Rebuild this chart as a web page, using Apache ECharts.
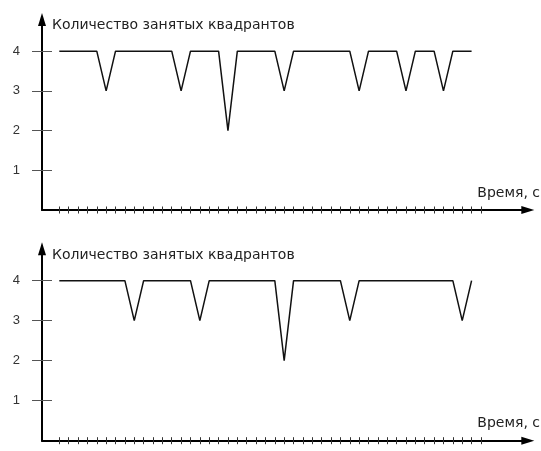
<!DOCTYPE html>
<html>
<head>
<meta charset="utf-8">
<script src="https://cdn.jsdelivr.net/npm/echarts@6/dist/echarts.min.js"></script>
<style>
html,body{margin:0;padding:0;background:#fff;}
#c{width:541px;height:451px;}
</style>
</head>
<body>
<div id="c"></div>
<script>
// Top chart
var topX = [0,4,5,6,12,13,14,17,18,19,23,24,25,31,32,33,36,37,38,40,41,42,44];
var topY = [4,4,3,4,4,3,4,4,2,4,4,3,4,4,3,4,4,3,4,4,3,4,4];
// Bottom chart
var botX = [0,7,8,9,14,15,16,23,24,25,30,31,32,42,43,44];
var botY = [4,4,3,4,4,3,4,4,2,4,4,3,4,4,3,4];
// Tick values
var xTicks = [];
for (var i = 0; i <= 45; i++) xTicks.push(i);
var yTicks = [1,2,3,4];
var yTitle = 'Количество занятых квадрантов';
var xTitle = 'Время, с';

function pairs(xs, ys){ return xs.map(function(x,i){ return [x, ys[i]]; }); }

var FONT = '"Liberation Sans", Arial, sans-serif';
var TFONT = '"DejaVu Sans", sans-serif';
var X_MIN = -1.846, X_MAX = 50;

function xAxes(gi){
  return [
    {gridIndex:gi, type:'value', min:X_MIN, max:X_MAX,
     axisLine:{show:true, onZero:false, lineStyle:{color:'#000', width:2}, symbol:['none','triangle'], symbolSize:[8,13]},
     axisTick:{show:true, customValues:xTicks, length:3.5, inside:false, lineStyle:{color:'#333', width:1}},
     axisLabel:{show:false}, splitLine:{show:false}},
    {gridIndex:gi, type:'value', min:X_MIN, max:X_MAX, position:'bottom',
     axisLine:{show:false, onZero:false},
     axisTick:{show:true, customValues:xTicks, length:3.5, inside:true, lineStyle:{color:'#333', width:1}},
     axisLabel:{show:false}, splitLine:{show:false}}
  ];
}
function yAxes(gi){
  return [
    {gridIndex:gi, type:'value', min:0, max:4.8,
     axisLine:{show:true, onZero:false, lineStyle:{color:'#000', width:2}, symbol:['none','triangle'], symbolSize:[8,13]},
     axisTick:{show:true, customValues:yTicks, length:10, inside:false, lineStyle:{color:'#555', width:1}},
     axisLabel:{show:true, customValues:yTicks, margin:22, color:'#333', fontSize:13, fontFamily:FONT},
     splitLine:{show:false}},
    {gridIndex:gi, type:'value', min:0, max:4.8, position:'left',
     axisLine:{show:false, onZero:false},
     axisTick:{show:true, customValues:yTicks, length:10, inside:true, lineStyle:{color:'#555', width:1}},
     axisLabel:{show:false}, splitLine:{show:false}}
  ];
}

var chart = echarts.init(document.getElementById('c'), null, {renderer:'canvas'});
chart.setOption({
  animation:false,
  backgroundColor:'#fff',
  grid:[
    {left:42, top:19.4, width:485.8, height:190.6},
    {left:42, top:248.7, width:485.8, height:192}
  ],
  xAxis: xAxes(0).concat(xAxes(1)),
  yAxis: yAxes(0).concat(yAxes(1)),
  graphic:[
    {type:'text', left:52, top:18, style:{text:yTitle, fill:'#222', font:'14px ' + TFONT}},
    {type:'text', left:52, top:248, style:{text:yTitle, fill:'#222', font:'14px ' + TFONT}},
    {type:'text', right:1, top:186, style:{text:xTitle, fill:'#222', font:'14px ' + TFONT}},
    {type:'text', right:1, top:416, style:{text:xTitle, fill:'#222', font:'14px ' + TFONT}}
  ],
  series:[
    {type:'line', xAxisIndex:0, yAxisIndex:0, data:pairs(topX, topY), showSymbol:false, symbol:'none',
     lineStyle:{color:'#111', width:1.5}},
    {type:'line', xAxisIndex:2, yAxisIndex:2, data:pairs(botX, botY), showSymbol:false, symbol:'none',
     lineStyle:{color:'#111', width:1.5}}
  ]
});
</script>
</body>
</html>
